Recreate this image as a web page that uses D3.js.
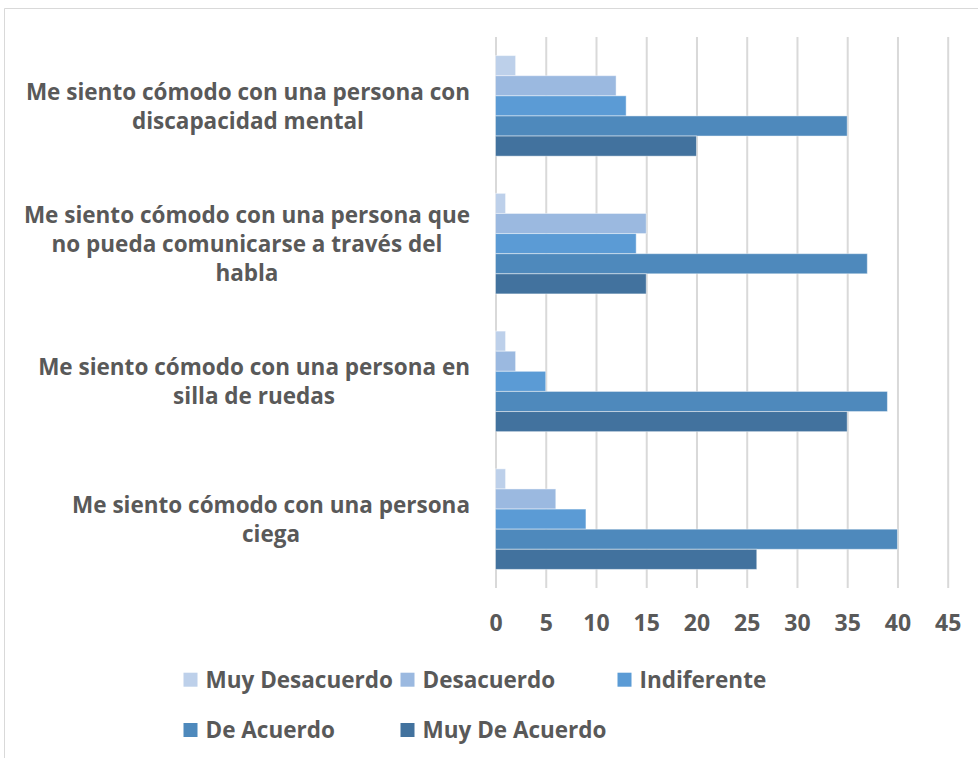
<!DOCTYPE html>
<html>
<head>
<meta charset="utf-8">
<script src="https://cdn.jsdelivr.net/npm/d3@7"></script>
<style>
  html, body { margin: 0; padding: 0; background: #fff; }
  svg text { font-family: "Open Sans", "Liberation Sans", sans-serif; font-weight: 700; fill: #595959; }
</style>
</head>
<body>
<div id="chart"></div>
<script>
const categories = [
  ["Me siento cómodo con una persona con", "discapacidad mental"],
  ["Me siento cómodo con una persona que", "no pueda comunicarse a través del", "habla"],
  ["Me siento cómodo con una persona en", "silla de ruedas"],
  ["Me siento cómodo con una persona", "ciega"]
];
const seriesNames = ["Muy Desacuerdo", "Desacuerdo", "Indiferente", "De Acuerdo", "Muy De Acuerdo"];
const seriesColors = ["#bdd0ea", "#9bb9e0", "#5b9bd5", "#4e89bc", "#42729e"];
// one array per series, same order as categories
const muyDesacuerdo = [2, 1, 1, 1];
const desacuerdo    = [12, 15, 2, 6];
const indiferente   = [13, 14, 5, 9];
const deAcuerdo     = [35, 37, 39, 40];
const muyDeAcuerdo  = [20, 15, 35, 26];
const xTicks = [0, 5, 10, 15, 20, 25, 30, 35, 40, 45];

const seriesValues = [muyDesacuerdo, desacuerdo, indiferente, deAcuerdo, muyDeAcuerdo];

const width = 978, height = 758;
const plot = { left: 495.5, right: 947.7, top: 37, bottom: 588 };

const svg = d3.select("#chart").append("svg")
  .attr("width", width)
  .attr("height", height);

// outer frame (right / bottom edges run off the picture)
svg.append("path")
  .attr("d", `M4.5,${height + 2} L4.5,8.5 L${width + 2},8.5`)
  .attr("fill", "none")
  .attr("stroke", "#d9d9d9")
  .attr("stroke-width", 1);

const x = d3.scaleLinear()
  .domain([0, 45])
  .range([plot.left, plot.right]);

const catIdx = categories.map((d, i) => i);

const y = d3.scaleBand()
  .domain(catIdx)
  .range([plot.top, plot.bottom])
  .paddingInner(0.27)
  .paddingOuter(0.135);

const ySeries = d3.scaleBand()
  .domain(seriesNames)
  .range([0, y.bandwidth()]);

// grid lines
const grid = svg.append("g")
  .attr("class", "grid-lines")
  .attr("transform", `translate(0, ${plot.bottom})`)
  .call(d3.axisBottom(x).tickValues(xTicks).tickFormat("").tickSize(-(plot.bottom - plot.top)));
grid.select(".domain").remove();
grid.selectAll("line")
  .attr("stroke", "#d9d9d9")
  .attr("stroke-width", 2);

// bars
const groups = svg.append("g").selectAll("g")
  .data(catIdx)
  .enter().append("g")
    .attr("transform", (i) => `translate(0, ${y(i)})`);

groups.selectAll("rect")
  .data((i) => seriesNames.map((s, k) => ({ series: s, k: k, value: seriesValues[k][i] })))
  .enter().append("rect")
    .attr("x", x(0))
    .attr("y", (d) => ySeries(d.series))
    .attr("width", (d) => x(d.value) - x(0))
    .attr("height", ySeries.bandwidth())
    .attr("fill", (d) => seriesColors[d.k])
    .attr("stroke", "#ffffff")
    .attr("stroke-opacity", 0.45)
    .attr("stroke-width", 1);

// x axis labels
const axis = svg.append("g")
  .attr("transform", `translate(0, ${plot.bottom})`)
  .call(d3.axisBottom(x).tickValues(xTicks).tickSize(0).tickPadding(0));
axis.select(".domain").remove();
axis.selectAll("text")
  .attr("y", 35)
  .attr("dy", "0.36em")
  .style("font-size", "23px")
  .style("font-family", "\"Open Sans\", sans-serif")
  .style("font-weight", 700)
  .attr("fill", "#595959");

// category labels: block right-aligned near the axis, lines centred in the block
const lineH = 29;
const labelRight = 470;
const labels = svg.append("g").selectAll("text")
  .data(catIdx)
  .enter().append("text")
    .attr("text-anchor", "middle")
    .style("font-size", "22.5px");

labels.each(function(i) {
  const lines = categories[i];
  const cy = y(i) + y.bandwidth() / 2;
  const t = d3.select(this);
  const spans = lines.map((ln, j) => t.append("tspan")
      .attr("y", cy + (j - (lines.length - 1) / 2) * lineH)
      .attr("dy", "0.38em")
      .text(ln));
  const maxW = d3.max(spans, (s) => s.node().getComputedTextLength());
  spans.forEach((s) => s.attr("x", labelRight - maxW / 2));
});

// legend
const legend = svg.append("g").selectAll("g")
  .data(seriesNames)
  .enter().append("g")
    .attr("transform", (d, i) => `translate(${183.5 + (i % 3) * 217}, ${679.7 + Math.floor(i / 3) * 50.3})`);

legend.append("rect")
  .attr("x", 0)
  .attr("y", -7)
  .attr("width", 14)
  .attr("height", 14)
  .attr("fill", (d, i) => seriesColors[i]);

legend.append("text")
  .attr("x", 22)
  .attr("y", 0)
  .attr("dy", "0.36em")
  .style("font-size", "22.5px")
  .text((d) => d);
</script>
</body>
</html>
